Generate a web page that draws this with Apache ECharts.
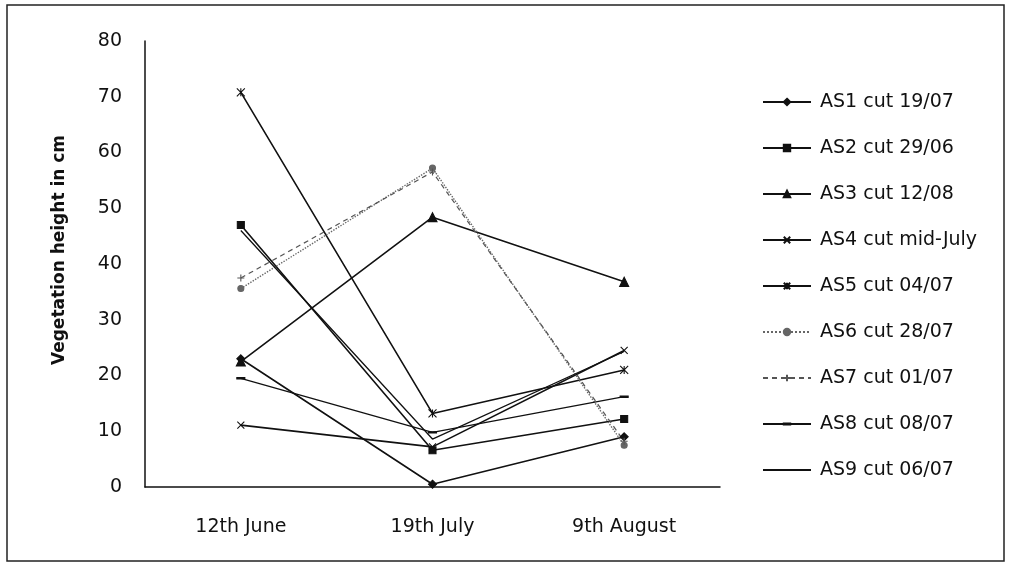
<!DOCTYPE html>
<html>
<head>
<meta charset="utf-8">
<script src="https://cdn.jsdelivr.net/npm/echarts@6/dist/echarts.min.js"></script>
<style>
  html, body { margin: 0; padding: 0; background: #fff; }
  #chart { width: 1010px; height: 565px; }
</style>
</head>
<body>
<div id="chart"></div>
<script>
// categories and values
const dates = ['12th June', '19th July', '9th August'];
const yTicks = [0, 10, 20, 30, 40, 50, 60, 70, 80];

const as1 = [23, 0.5, 9];
const as2 = [47, 6.6, 12.2];
const as3 = [22.5, 48.4, 36.8];
const as4 = [11.1, 7.2, 24.5];
const as5 = [70.8, 13.2, 21];
const as6 = [35.6, 57.2, 7.5];
const as7 = [37.5, 56.5, 8.2];
const as8 = [19.5, 9.8, 16.2];
const as9 = [46, 8.6, 24.3];

const names = ['AS1 cut 19/07', 'AS2 cut 29/06', 'AS3 cut 12/08', 'AS4 cut mid-July',
  'AS5 cut 04/07', 'AS6 cut 28/07', 'AS7 cut 01/07', 'AS8 cut 08/07', 'AS9 cut 06/07'];

const FONT = '"DejaVu Sans", sans-serif';

// marker shapes
const markX = 'path://M0,0L10,10M10,0L0,10';
const markStar = 'path://M0,0L10,10M10,0L0,10M5,0L5,10';
const markPlus = 'path://M5,0L5,10M0,5L10,5';
// lone moveTo points keep the bounding box square so the dash is not stretched
const markDash = 'path://M0,0M0,4.2L10,4.2L10,5.8L0,5.8ZM10,10';

const myChart = echarts.init(document.getElementById('chart'));

function line(name, data, symbol, size, style) {
  const col = (style && style.color) || '#111';
  return {
    name: name,
    type: 'line',
    data: data,
    symbol: symbol,
    symbolSize: size,
    showSymbol: symbol !== 'none',
    lineStyle: Object.assign({ color: '#111', width: 1.6, type: 'solid' }, style || {}),
    itemStyle: { color: col, borderColor: col, borderWidth: 1.1 },
    emphasis: { disabled: true },
    z: 3
  };
}

const option = {
  backgroundColor: '#fff',
  animation: false,
  textStyle: { fontFamily: FONT },
  graphic: [{
    type: 'rect',
    shape: { x: 7, y: 5, width: 997, height: 556 },
    style: { fill: 'none', stroke: '#222', lineWidth: 1.5 },
    silent: true
  }],
  grid: { left: 145, top: 41, width: 575, height: 446 },
  legend: {
    orient: 'vertical',
    left: 757,
    top: 86,
    itemWidth: 48,
    itemHeight: 8,
    itemGap: 24,
    textStyle: { fontFamily: FONT, fontSize: 19, color: '#111', lineHeight: 22, padding: [0, 0, 0, 4] },
    data: names.map(function (n, i) {
      return i === 8 ? { name: n, itemStyle: { color: 'rgba(0,0,0,0)', borderColor: 'rgba(0,0,0,0)' } } : n;
    })
  },
  xAxis: {
    type: 'category',
    data: dates,
    boundaryGap: true,
    axisLine: { lineStyle: { color: '#111', width: 1.5 } },
    axisTick: { show: false },
    axisLabel: { color: '#111', fontSize: 19, margin: 31, fontFamily: FONT },
    splitLine: { show: false }
  },
  yAxis: {
    type: 'value',
    min: yTicks[0],
    max: yTicks[yTicks.length - 1],
    interval: 10,
    name: 'Vegetation height in cm',
    nameLocation: 'middle',
    nameGap: 77,
    nameTextStyle: { fontSize: 17, fontWeight: 'bold', color: '#111', fontFamily: FONT, padding: [0, 0, 0, 28] },
    axisLine: { show: true, lineStyle: { color: '#111', width: 1.5 } },
    axisTick: { show: false },
    axisLabel: { color: '#111', fontSize: 19, margin: 23, fontFamily: FONT },
    splitLine: { show: false }
  },
  series: [
    line(names[0], as1, 'diamond', 8),
    line(names[1], as2, 'rect', 7),
    line(names[2], as3, 'triangle', 9),
    line(names[3], as4, markX, 7),
    line(names[4], as5, markStar, 8),
    line(names[5], as6, 'circle', 6, { color: '#666', type: 'dotted', width: 1.4 }),
    line(names[6], as7, markPlus, 7, { color: '#555', type: [5, 4], width: 1.2 }),
    line(names[7], as8, markDash, 8, { width: 1.3 }),
    line(names[8], as9, 'none', 0, { width: 1.3 })
  ]
};

myChart.setOption(option);
</script>
</body>
</html>
